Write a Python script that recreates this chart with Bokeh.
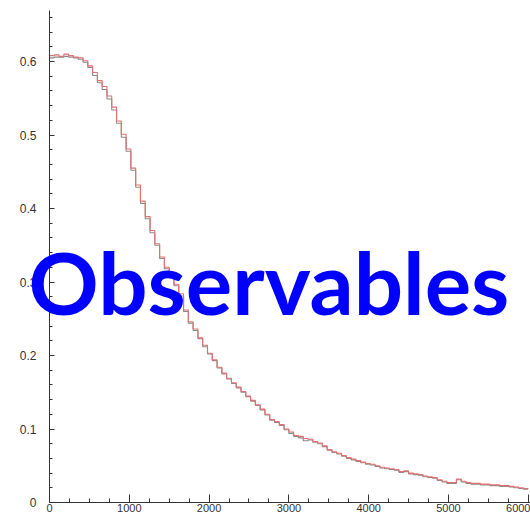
from bokeh.plotting import figure
from bokeh.models import SingleIntervalTicker, Label
from bokeh.embed import file_html
from bokeh.resources import INLINE

# Bin left edges: 100 bins of width 60 from 0 to 6000
bin_width = 60
bin_edges = [i * bin_width for i in range(101)]

# Model histogram (red)
model = [0.608, 0.609, 0.607, 0.610, 0.608, 0.606, 0.605, 0.601, 0.594, 0.585,
         0.574, 0.566, 0.553, 0.538, 0.519, 0.501, 0.481, 0.455, 0.432, 0.410,
         0.389, 0.370, 0.352, 0.334, 0.320, 0.308, 0.297, 0.284, 0.262, 0.246,
         0.236, 0.224, 0.214, 0.203, 0.194, 0.184, 0.176, 0.169, 0.163, 0.157,
         0.151, 0.145, 0.139, 0.133, 0.127, 0.120, 0.113, 0.110, 0.106, 0.100,
         0.096, 0.091, 0.090, 0.087, 0.086, 0.083, 0.081, 0.077, 0.072, 0.069,
         0.067, 0.064, 0.061, 0.059, 0.057, 0.055, 0.053, 0.052, 0.050, 0.048,
         0.047, 0.046, 0.045, 0.042, 0.043, 0.040, 0.039, 0.038, 0.036, 0.035,
         0.034, 0.031, 0.029, 0.027, 0.027, 0.032, 0.029, 0.027, 0.026, 0.026,
         0.025, 0.025, 0.024, 0.024, 0.023, 0.023, 0.022, 0.021, 0.020, 0.019]

# Data histogram (grey)
data = [0.605, 0.606, 0.606, 0.607, 0.606, 0.605, 0.603, 0.599, 0.592, 0.581,
        0.571, 0.562, 0.549, 0.534, 0.516, 0.497, 0.478, 0.452, 0.429, 0.407,
        0.386, 0.367, 0.350, 0.332, 0.318, 0.306, 0.295, 0.281, 0.260, 0.244,
        0.234, 0.223, 0.212, 0.202, 0.193, 0.183, 0.175, 0.168, 0.162, 0.156,
        0.150, 0.144, 0.138, 0.132, 0.126, 0.119, 0.112, 0.109, 0.105, 0.099,
        0.094, 0.090, 0.088, 0.084, 0.085, 0.082, 0.080, 0.076, 0.071, 0.068,
        0.066, 0.063, 0.060, 0.058, 0.056, 0.054, 0.052, 0.051, 0.049, 0.047,
        0.046, 0.045, 0.044, 0.041, 0.042, 0.039, 0.038, 0.037, 0.035, 0.034,
        0.033, 0.030, 0.028, 0.026, 0.026, 0.031, 0.028, 0.026, 0.025, 0.025,
        0.024, 0.024, 0.023, 0.023, 0.022, 0.022, 0.021, 0.020, 0.019, 0.018]

x_ticks_interval = 1000
y_ticks_interval = 0.1
x_axis_max = 6028
y_axis_max = 0.669
overlay_text = "Observables"

# The frame fills the whole canvas; the axes sit at fixed data positions
p = figure(width=530, height=517, output_backend="svg", toolbar_location=None,
           x_range=(-614, 6028), y_range=(-0.0204, 0.683))
p.min_border = 0
p.min_border_left = 0
p.min_border_right = 0
p.min_border_top = 0
p.min_border_bottom = 0
p.outline_line_color = None
p.xgrid.grid_line_color = None
p.ygrid.grid_line_color = None
p.background_fill_color = "white"
p.border_fill_color = "white"

step_x = bin_edges
step_data = data + [data[-1]]
step_model = model + [model[-1]]
p.step(x=step_x, y=step_data, mode="after", line_color="#8a8a8a", line_width=1.1)
p.step(x=step_x, y=step_model, mode="after", line_color="#e37070", line_width=1.1)

for ax, interval, nminor in ((p.xaxis, x_ticks_interval, 4), (p.yaxis, y_ticks_interval, 5)):
    ax.ticker = SingleIntervalTicker(interval=interval, num_minor_ticks=nminor)
    ax.fixed_location = 0
    ax.axis_line_color = "#333333"
    ax.major_tick_line_color = "#333333"
    ax.minor_tick_line_color = "#333333"
    ax.major_tick_out = 0
    ax.minor_tick_out = 0
    ax.major_label_text_color = "#333333"
    ax.major_label_text_font = "Liberation Sans"

p.xaxis.bounds = (0, x_axis_max)
p.yaxis.bounds = (0, y_axis_max)
p.xaxis.major_tick_in = 8
p.xaxis.minor_tick_in = 4
p.xaxis.major_label_standoff = 1
p.xaxis.major_label_text_font_size = "11px"
p.yaxis.major_tick_in = 5
p.yaxis.minor_tick_in = 3
p.yaxis.major_label_standoff = 13
p.yaxis.major_label_text_font_size = "12px"
p.yaxis.major_label_overrides = {0: "0"}

label = Label(x=2750, y=0.3007, text=overlay_text, text_font="Lato",
              text_font_style="bold", text_font_size="87px", text_color="#0000ff",
              text_align="center", text_baseline="alphabetic", level="overlay")
p.add_layout(label)

open("out.html", "w").write(file_html(p, INLINE))
